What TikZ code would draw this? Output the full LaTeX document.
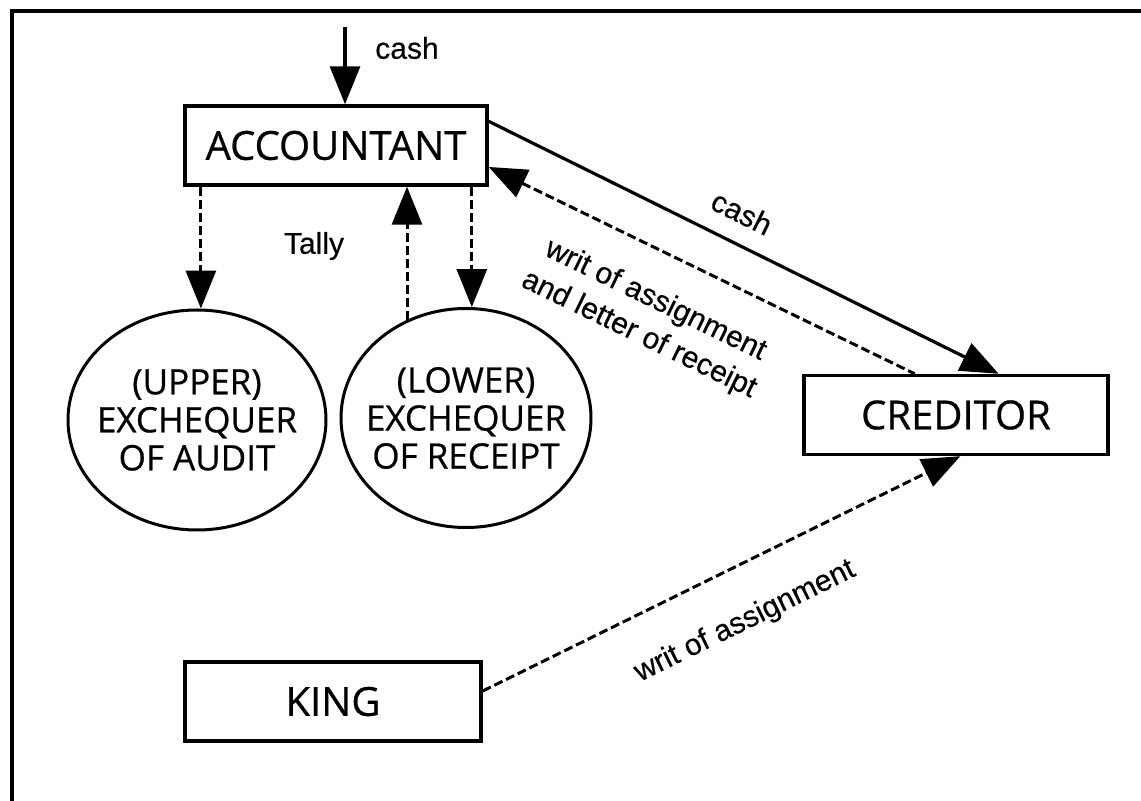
\documentclass[tikz,border=0pt]{standalone}
\usepackage{fontspec}
\setmainfont[FakeBold=0.4]{Liberation Sans}
\newfontfamily\boxfont[FakeBold=0.6]{Open Sans}
\usetikzlibrary{arrows.meta,shapes.geometric}

\begin{document}
\begin{tikzpicture}[x=0.5pt,y=-0.5pt,>={Triangle[length=19pt,width=15pt]},
	box/.style={draw,line width=1.7pt,inner sep=0pt,minimum height=39.5pt,font=\boxfont\fontsize{20}{24}\selectfont},
	oval/.style={draw,ellipse,line width=1.5pt,inner sep=0pt},
	ovaltext/.style={inner sep=0pt,align=center,font=\boxfont\fontsize{17.5}{19}\selectfont},
	lbl/.style={inner sep=0pt,font=\fontsize{15}{19}\selectfont},
	flow/.style={->,line width=1.6pt},
	paper/.style={->,line width=1.5pt,dash pattern=on 4.5pt off 2pt}]
	
	\useasboundingbox (0,0) rectangle (1141,801);
	
	% The frame
	\draw[line width=2pt] (12,801) -- (12,11) -- (1141,11);
	
	% The boxes
	\node[box,minimum width=151pt] (acc) at (336,145.5) {ACCOUNTANT};
	\node[box,minimum width=152pt] (cred) at (956,415) {CREDITOR};
	\node[box,minimum width=148pt] (king) at (333,701.5) {KING};
	
	% The two exchequers
	\node[oval,minimum width=129pt,minimum height=110pt,
		label={[ovaltext]center:(UPPER)\\EXCHEQUER\\OF AUDIT}] (upper) at (197,420) {};
	\node[oval,minimum width=125pt,minimum height=109.5pt,
		label={[ovaltext]center:(LOWER)\\EXCHEQUER\\OF RECEIPT}] (lower) at (466,418) {};
	
	% Cash in
	\coordinate (cashtop) at (345,27);
	\draw[flow] (cashtop) -- (cashtop |- acc.north);
	\node[lbl] (cashin) at (407,48) {cash};
	
	% The tallies
	\draw[paper] (acc.south -| upper.88) -- (upper.88);
	\draw[paper] (lower.121) -- (acc.south -| lower.121);
	\draw[paper] (acc.south -| lower.87) -- (lower.87);
	\node[lbl] (tally) at (314,246) {Tally};
	
	% Accountant and creditor
	\draw[flow] (acc.9) -- (cred.44)
		node[lbl,sloped,above=9pt,pos=0.47] (cashout) {cash};
	\draw[paper,<-] (acc.-8) -- (cred.135)
		node[lbl,sloped,below=16pt,pos=0.44,align=center] (writ) {writ of assignment\\and letter of receipt};
	
	% King to creditor
	\draw[paper] (king.4) -- (cred.-84)
		node[lbl,sloped,below=19pt,pos=0.5] (writking) {writ of assignment};
	
\end{tikzpicture}
\end{document}
